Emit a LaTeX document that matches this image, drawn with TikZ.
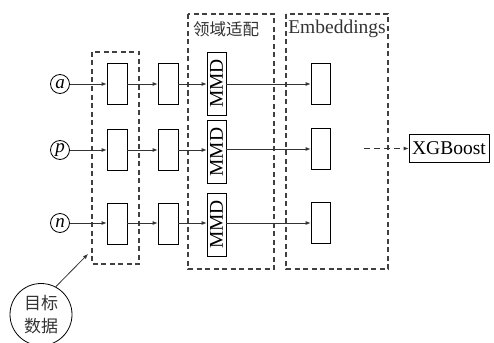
\documentclass[tikz,border=0pt]{standalone}
\usepackage{fontspec}
\setmainfont{Liberation Serif}
\newfontfamily\cjk{Noto Sans CJK SC}
\usetikzlibrary{arrows.meta}
\tikzset{
  box/.style={draw=black,line width=0.8pt,minimum width=20pt,minimum height=41pt,inner sep=0pt},
  mmdbox/.style={draw=black,line width=0.8pt,minimum width=19pt,minimum height=63pt,inner sep=0pt,font=\fontsize{19.5}{19.5}\selectfont},
  embbox/.style={draw=black,line width=0.8pt,minimum width=19pt,minimum height=41pt,inner sep=0pt},
  inp/.style={draw=black,circle,line width=0.8pt,minimum size=19pt,inner sep=0pt,font=\fontsize{19}{19}\selectfont\itshape},
  grp/.style={draw=black!75,dashed,dash pattern=on 5pt off 3.5pt,line width=1.1pt},
  conn/.style={draw=black!80,line width=0.8pt,-{Latex[length=5pt,width=4pt]}},
  lbl/.style={inner sep=0pt,text=black!80}
}
\begin{document}
\begin{tikzpicture}[x=1pt,y=-1pt]
\useasboundingbox (0,0) rectangle (494,342);
% group boxes
\draw[grp] (92,52) rectangle (139,264);
\draw[grp] (188,14) rectangle (274,269);
\draw[grp] (286,14) rectangle (388,269);
\node[lbl,font=\cjk\fontsize{16.5}{16.5}\selectfont] (ly) at (226,29) {领域适配};
\node[lbl,font=\fontsize{19.5}{19.5}\selectfont] (emb) at (337,29) {Embeddings};
% inputs
\node[inp] (a) at (60,84) {a};
\node[inp] (p) at (60,150) {p};
\node[inp] (n) at (60,223) {n};
% column 1
\node[box] (a1) at (117,84) {};
\node[box] (p1) at (117,150) {};
\node[box] (n1) at (117,223.5) {};
% column 2
\node[box] (a2) at (168,84) {};
\node[box] (p2) at (168,150) {};
\node[box] (n2) at (168,223.5) {};
% MMD
\node[mmdbox] (am) at (216.5,83.5) {\rotatebox{90}{MMD}};
\node[mmdbox] (pm) at (216.5,152) {\rotatebox{90}{MMD}};
\node[mmdbox] (nm) at (216.5,224.5) {\rotatebox{90}{MMD}};
% embeddings
\node[embbox] (ae) at (320.5,83.5) {};
\node[embbox] (pe) at (320.5,148.5) {};
\node[embbox] (ne) at (320.5,222.5) {};
% XGBoost
\node[draw=black,line width=0.8pt,minimum width=80pt,minimum height=28pt,inner sep=0pt,font=\fontsize{19.5}{19.5}\selectfont] (xg) at (449,148) {XGBoost};
\coordinate (xs) at (364,148.5);
% connectors
\foreach \r/\y in {a/84,p/150,n/223}{
  \draw[conn] (\r) -- (\r1.west|-{0,\y});
  \draw[conn] (\r1.east|-{0,\y}) -- (\r2.west|-{0,\y});
  \draw[conn] (\r2.east|-{0,\y}) -- (\r m.west|-{0,\y});
}
\draw[conn] (am.east|-{0,84}) -- (ae.west|-{0,84});
\draw[conn] (pm.east|-{0,149}) -- (pe.west|-{0,149});
\draw[conn] (nm.east|-{0,223}) -- (ne.west|-{0,223});
\draw[conn,dashed,dash pattern=on 6pt off 4pt] (xs) -- (xg.west|-xs);
% target data
\node[draw=black,circle,line width=0.8pt,minimum size=62pt,inner sep=0pt,align=center,font=\cjk\fontsize{17}{23.5}\selectfont,text=black!80] (tgt) at (41,314.5) {目标\\数据};
\coordinate (tgtend) at (88,254);
\draw[conn] (tgt.62) -- (tgtend);
\end{tikzpicture}
\end{document}
